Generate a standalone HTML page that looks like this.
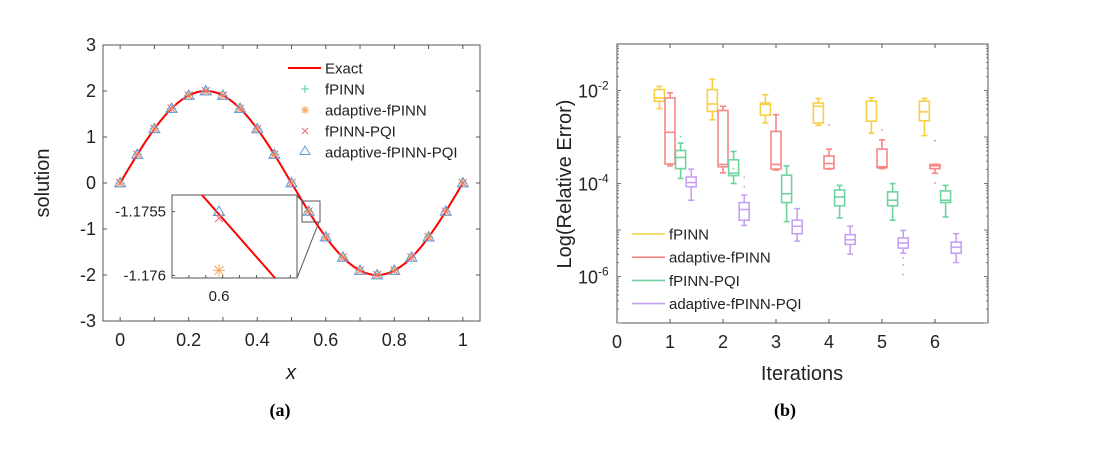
<!DOCTYPE html>
<html><head><meta charset="utf-8"><style>
body{margin:0;background:#fff;}
svg{display:block;font-family:"Liberation Sans",Arial,sans-serif;}
</style></head><body>
<svg id="fig" width="1106" height="459" viewBox="0 0 1106 459">
<g id="left"></g>
<g id="right"></g>
<text x="280" y="416" font-family="Liberation Serif" font-weight="bold" font-size="18" text-anchor="middle">(a)</text>
<text x="785" y="416" font-family="Liberation Serif" font-weight="bold" font-size="18" text-anchor="middle">(b)</text>
</svg>
<script>
// ---------- data (a) ----------
const sampleX = [0,0.05,0.1,0.15,0.2,0.25,0.3,0.35,0.4,0.45,0.5,0.55,0.6,0.65,0.7,0.75,0.8,0.85,0.9,0.95,1];
const sampleY = [0,0.618,1.176,1.618,1.902,2,1.902,1.618,1.176,0.618,0,-0.618,-1.176,-1.618,-1.902,-2,-1.902,-1.618,-1.176,-0.618,0];
const xTicksA = [0,0.2,0.4,0.6,0.8,1];
const yTicksA = [-3,-2,-1,0,1,2,3];
const insetTri = -1.1755, insetCross = -1.17555, insetStar = -1.17596;
const insetYTicks = [-1.1755,-1.176];
// ---------- data (b) ----------
const series = ['fPINN','adaptive-fPINN','fPINN-PQI','adaptive-fPINN-PQI'];
const iterations = [1,2,3,4,5,6];
// per series: [whiskerHigh,q3,median,q1,whiskerLow] (log10) per iteration
const fpinnStats = [[-1.91,-1.98,-2.16,-2.23,-2.39],[-1.76,-1.98,-2.29,-2.45,-2.63],[-2.09,-2.27,-2.3,-2.53,-2.7],[-2.17,-2.27,-2.34,-2.7,-2.75],[-2.16,-2.23,-2.23,-2.66,-2.92],[-2.17,-2.23,-2.46,-2.65,-2.97]];
const adaptStats = [[-2.05,-2.16,-2.9,-3.58,-3.62],[-2.34,-2.43,-3.59,-3.64,-3.77],[-2.52,-2.88,-3.59,-3.69,-3.71],[-3.26,-3.41,-3.57,-3.68,-3.69],[-3.06,-3.26,-3.64,-3.66,-3.68],[-3.59,-3.59,-3.62,-3.68,-3.78]];
const pqiStats = [[-3.13,-3.29,-3.44,-3.68,-3.89],[-3.31,-3.49,-3.78,-3.83,-4.0],[-3.62,-3.82,-4.22,-4.41,-4.82],[-4.04,-4.14,-4.29,-4.48,-4.74],[-4.0,-4.18,-4.36,-4.48,-4.79],[-4.04,-4.16,-4.36,-4.41,-4.72]];
const apqiStats = [[-3.69,-3.86,-3.98,-4.07,-4.36],[-4.25,-4.41,-4.56,-4.79,-4.9],[-4.54,-4.79,-4.92,-5.08,-5.24],[-4.92,-5.1,-5.21,-5.31,-5.52],[-5.01,-5.17,-5.28,-5.39,-5.5],[-5.08,-5.26,-5.37,-5.5,-5.7]];
const fpinnOut = [[],[],[],[],[],[]];
const adaptOut = [[],[],[],[-2.74],[-2.85],[-3.08,-3.99]];
const pqiOut = [[-2.99],[-3.68],[],[],[],[]];
const apqiOut = [[],[-3.87,-4.07],[],[],[-5.6,-5.75,-5.96],[]];
const yTicksB = [-2,-4,-6];
const xTicksB = [0,1,2,3,4,5,6];

const NS='http://www.w3.org/2000/svg';
function mk(p,tag,a,txt){const e=document.createElementNS(NS,tag);for(const k in a)e.setAttribute(k,a[k]);if(txt!==undefined)e.textContent=txt;p.appendChild(e);return e;}

// ---------- chart (a) ----------
const L=document.getElementById('left');
const ax0=103,ax1=480,ay0=45,ay1=321;
const sxA=v=>ax0+(v+0.05)/1.1*(ax1-ax0);
const syA=v=>ay1-(v+3)/6*(ay1-ay0);
let e=mk(L,'rect',{x:ax0,y:ay0,width:ax1-ax0,height:ay1-ay0,fill:'none',stroke:'#555','stroke-width':1});

for(let t=0;t<=1.0001;t+=0.1){const x=sxA(t);mk(L,'line',{x1:x,x2:x,y1:ay1,y2:ay1-4,stroke:'#555'});mk(L,'line',{x1:x,x2:x,y1:ay0,y2:ay0+4,stroke:'#555'});}
xTicksA.forEach(t=>{e=mk(L,'text',{x:sxA(t),y:346,'font-size':18,'text-anchor':'middle',fill:'#222'},String(t));});
yTicksA.forEach(t=>{const y=syA(t);mk(L,'line',{x1:ax0,x2:ax0+4,y1:y,y2:y,stroke:'#555'});mk(L,'line',{x1:ax1,x2:ax1-4,y1:y,y2:y,stroke:'#555'});
e=mk(L,'text',{x:96,y:y+6,'font-size':18,'text-anchor':'end',fill:'#222'},String(t));});
e=mk(L,'text',{x:291,y:379,'font-size':20,'font-style':'italic','text-anchor':'middle',fill:'#222'},'x');
e=mk(L,'text',{x:49,y:183,'font-size':20,'text-anchor':'middle',fill:'#222',transform:'rotate(-90 49 183)'},'solution');
let d='';for(let i=0;i<=200;i++){const x=i/200;d+=(i?'L':'M')+sxA(x).toFixed(2)+','+syA(2*Math.sin(2*Math.PI*x)).toFixed(2);}
e=mk(L,'path',{d:d,fill:'none',stroke:'#f00','stroke-width':2});
function tri(p,x,y,s){return mk(p,'path',{d:`M${x},${y-s}L${x+s},${y+s*0.7}L${x-s},${y+s*0.7}Z`,fill:'none',stroke:'#5b9bd5','stroke-width':1});}
function cross(p,x,y,s,c){mk(p,'path',{d:`M${x-s},${y-s}L${x+s},${y+s}M${x-s},${y+s}L${x+s},${y-s}`,stroke:c,'stroke-width':1});}
function plus(p,x,y,s,c){mk(p,'path',{d:`M${x-s},${y}L${x+s},${y}M${x},${y-s}L${x},${y+s}`,stroke:c,'stroke-width':1});}
function star(p,x,y,s,c){plus(p,x,y,s,c);cross(p,x,y,s*0.75,c);}
sampleX.forEach((x,i)=>{const px=sxA(x),py=syA(sampleY[i]);
const g=mk(L,'g',{});
plus(g,px,py,4.5,'#4cc9a8');star(g,px,py,4.5,'#f9a85a');cross(g,px,py,4,'#f26c6c');tri(g,px,py,5.5);});
const legA=[['Exact','line'],['fPINN','plus'],['adaptive-fPINN','star'],['fPINN-PQI','cross'],['adaptive-fPINN-PQI','tri']];
legA.forEach((l,i)=>{const y=68+i*21;const g=mk(L,'g',{});
if(l[1]=='line')mk(g,'line',{x1:288,x2:321,y1:y,y2:y,stroke:'#f00','stroke-width':2});
if(l[1]=='plus')plus(g,305,y,4,'#4cc9a8');if(l[1]=='star')star(g,305,y,4,'#f9a85a');if(l[1]=='cross')cross(g,305,y,3,'#f26c6c');if(l[1]=='tri')tri(g,305,y-1,5);
mk(g,'text',{x:325,y:y+5.5,'font-size':15,fill:'#222'},l[0]);});
e=mk(L,'rect',{x:302,y:201,width:18,height:21,fill:'none',stroke:'#555'});
mk(L,'line',{x1:297,y1:278,x2:319,y2:222,stroke:'#555'});
mk(L,'line',{x1:297,y1:196,x2:302,y2:201,stroke:'#555'});
const ix0=172,ix1=297,iy0=195,iy1=278;
const k=8.9e-7,ixMin=0.6-47*k,ixMax=0.6+78*k,iyTop=-1.17537,iyBot=-1.17602;
const sxI=v=>ix0+(v-ixMin)/(ixMax-ixMin)*(ix1-ix0);
const syI=v=>iy0+(iyTop-v)/(iyTop-iyBot)*(iy1-iy0);
const I=mk(L,'g',{});
mk(I,'rect',{x:ix0,y:iy0,width:ix1-ix0,height:iy1-iy0,fill:'#fff',stroke:'#555'});
mk(I,'line',{x1:202,y1:iy0,x2:275,y2:iy1,stroke:'#f00','stroke-width':2});
tri(I,sxI(0.6),syI(insetTri),5.5);cross(I,sxI(0.6),syI(insetCross),4,'#f26c6c');star(I,sxI(0.6),syI(insetStar),6,'#f9a85a');
insetYTicks.forEach(t=>{mk(I,'text',{x:166,y:syI(t)+5,'font-size':15,'text-anchor':'end',fill:'#222'},String(t));mk(I,'line',{x1:ix0,x2:ix0+3,y1:syI(t),y2:syI(t),stroke:'#555'});});
mk(I,'text',{x:sxI(0.6),y:301,'font-size':15,'text-anchor':'middle',fill:'#222'},'0.6');
for(let i=0;i<7;i++){const x=ix0+(i+1)*(ix1-ix0)/7.4;mk(I,'line',{x1:x,x2:x,y1:iy1,y2:iy1-3,stroke:'#555'});}

// ---------- chart (b) ----------
const R=document.getElementById('right');
const bx0=617,bx1=988,by0=44,by1=323;
const sxB=v=>bx0+v/7*(bx1-bx0);
const syB=v=>by1-(v+7)/6*(by1-by0);
e=mk(R,'rect',{x:bx0,y:by0,width:bx1-bx0,height:by1-by0,fill:'none',stroke:'#555'});
for(let dd=-7;dd<-1;dd++){for(let m=1;m<10;m++){const y=syB(dd+Math.log10(m));const w=m==1?4:2;mk(R,'line',{x1:bx0,x2:bx0+w,y1:y,y2:y,stroke:'#777'});mk(R,'line',{x1:bx1,x2:bx1-w,y1:y,y2:y,stroke:'#777'});}}
xTicksB.forEach(t=>{const x=sxB(t);mk(R,'line',{x1:x,x2:x,y1:by1,y2:by1-4,stroke:'#555'});mk(R,'line',{x1:x,x2:x,y1:by0,y2:by0+4,stroke:'#555'});
e=mk(R,'text',{x:x,y:348,'font-size':18,'text-anchor':'middle',fill:'#222'},String(t));});
yTicksB.forEach(t=>{const y=syB(t);const g=mk(R,'text',{x:578,y:y+7,'font-size':18,fill:'#222'});
mk(g,'tspan',{},'10');mk(g,'tspan',{dy:-8,'font-size':12},String(t));});
e=mk(R,'text',{x:571,y:184,'font-size':20,'text-anchor':'middle',fill:'#222',transform:'rotate(-90 571 184)'},'Log(Relative Error)');
e=mk(R,'text',{x:802,y:380,'font-size':20,'text-anchor':'middle',fill:'#222'},'Iterations');
const colors=['#f7cf45','#f78686','#6fd39f','#c8a2f2'];
const allStats=[fpinnStats,adaptStats,pqiStats,apqiStats];
const allOut=[fpinnOut,adaptOut,pqiOut,apqiOut];
const offsets=[-0.2,0,0.2,0.4];
allStats.forEach((st,s)=>{st.forEach((b,i)=>{const c=sxB(iterations[i]+offsets[s]);const hw=5,cw=3;const col=colors[s];
const g=mk(R,'g',{fill:'none',stroke:col,'stroke-width':1.6});
mk(g,'rect',{x:c-hw,y:syB(b[1]),width:2*hw,height:syB(b[3])-syB(b[1])});
mk(g,'line',{x1:c-hw,x2:c+hw,y1:syB(b[2]),y2:syB(b[2])});
mk(g,'line',{x1:c,x2:c,y1:syB(b[0]),y2:syB(b[1])});mk(g,'line',{x1:c,x2:c,y1:syB(b[3]),y2:syB(b[4])});
mk(g,'line',{x1:c-cw,x2:c+cw,y1:syB(b[0]),y2:syB(b[0])});mk(g,'line',{x1:c-cw,x2:c+cw,y1:syB(b[4]),y2:syB(b[4])});
allOut[s][i].forEach(o=>{mk(g,'line',{x1:c-0.8,x2:c+0.8,y1:syB(o),y2:syB(o)});});});});
series.forEach((n,i)=>{const y=234+i*23.2;const g=mk(R,'g',{});
mk(g,'line',{x1:632,x2:665,y1:y,y2:y,stroke:colors[i],'stroke-width':1.6});mk(g,'text',{x:669,y:y+5.5,'font-size':15,fill:'#222'},n);});
</script>
</body></html>
